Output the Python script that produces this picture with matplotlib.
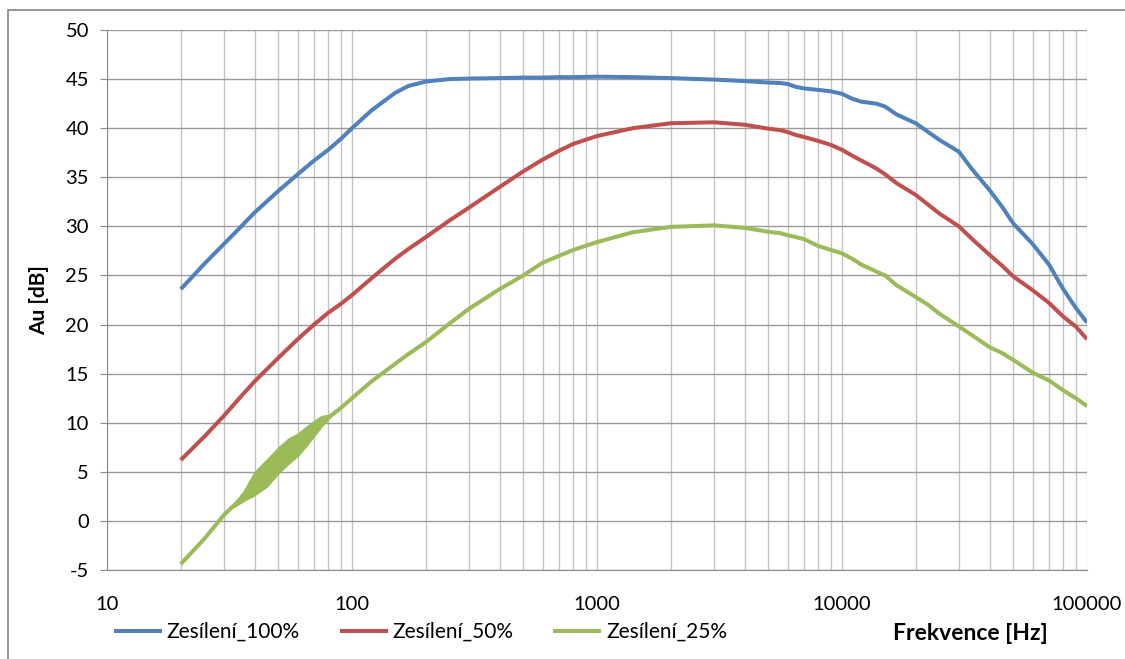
import matplotlib
matplotlib.use("Agg")
import matplotlib.pyplot as plt
from matplotlib.patches import Rectangle
from matplotlib.ticker import FixedLocator, FixedFormatter, LogLocator, NullFormatter

plt.rcParams['font.family'] = ['Lato', 'DejaVu Sans']
plt.rcParams['axes.unicode_minus'] = False

# frequency points (Hz)
freq = [20, 25, 30, 35, 40, 50, 60, 70, 80, 90, 100, 120, 150, 170, 200, 250,
        300, 400, 500, 600, 700, 800, 1000, 1400, 2000, 3000, 4000, 5000, 5600,
        6000, 6500, 7000, 8000, 9000, 10000, 11000, 12000, 13800, 15000, 16700,
        20000, 22500, 25000, 30000, 34000, 40000, 45000, 50000, 60000, 70000,
        80000, 90000, 100000]

gain_100 = [23.6, 26.2, 28.2, 29.9, 31.4, 33.6, 35.3, 36.7, 37.8, 38.9, 40.0,
            41.8, 43.6, 44.3, 44.75, 45.0, 45.05, 45.1, 45.15, 45.15, 45.2, 45.2,
            45.25, 45.2, 45.1, 44.95, 44.8, 44.65, 44.6, 44.5, 44.2, 44.05, 43.9,
            43.75, 43.5, 43.0, 42.7, 42.5, 42.2, 41.4, 40.5, 39.6, 38.8, 37.6,
            35.8, 33.7, 32.0, 30.3, 28.2, 26.1, 23.6, 21.7, 20.2]

gain_50 = [6.2, 8.6, 10.7, 12.6, 14.2, 16.6, 18.5, 20.0, 21.2, 22.1, 23.0,
           24.7, 26.7, 27.7, 28.9, 30.6, 31.9, 34.0, 35.6, 36.8, 37.7, 38.4,
           39.2, 40.0, 40.5, 40.6, 40.35, 39.95, 39.8, 39.6, 39.3, 39.1, 38.7,
           38.3, 37.8, 37.2, 36.7, 35.9, 35.3, 34.4, 33.2, 32.2, 31.3, 30.0,
           28.7, 27.1, 26.0, 24.9, 23.5, 22.2, 20.8, 19.8, 18.5]

gain_25 = [-4.4, -1.8, 0.6, 2.2, 3.8, 6.0, 7.6, 9.2, 10.5, 11.5, 12.5, 14.2,
           16.0, 17.0, 18.2, 20.1, 21.6, 23.6, 25.0, 26.3, 27.0, 27.6, 28.4,
           29.4, 29.95, 30.1, 29.85, 29.45, 29.3, 29.1, 28.9, 28.7, 28.0, 27.6,
           27.25, 26.7, 26.1, 25.4, 25.0, 24.0, 22.8, 22.0, 21.1, 19.8, 18.9,
           17.7, 17.1, 16.4, 15.1, 14.3, 13.3, 12.5, 11.7]

# noisy band of the 25 % curve at low frequencies
band_freq = [33, 36, 40, 45, 50, 55, 60, 65, 70, 75, 80]
band_lo = [1.4, 2.0, 2.6, 3.5, 4.8, 5.8, 6.6, 7.6, 8.6, 9.6, 10.3]
band_hi = [1.8, 3.0, 5.0, 6.3, 7.5, 8.4, 8.9, 9.6, 10.2, 10.7, 10.8]

labels = ["Zesílení_100%", "Zesílení_50%", "Zesílení_25%"]
colors = ["#4F81BD", "#C0504D", "#9BBB59"]

x_ticks = [10, 100, 1000, 10000, 100000]
y_ticks = list(range(-5, 51, 5))

fig = plt.figure(figsize=(11.25, 6.59), dpi=100)
ax = fig.add_axes([107 / 1125, 1 - 570 / 659, 980 / 1125, 540 / 659])

ax.set_xscale('log')
ax.set_xlim(10, 100000)
ax.set_ylim(-5, 50)

ax.xaxis.set_major_locator(FixedLocator(x_ticks))
ax.xaxis.set_major_formatter(FixedFormatter([str(t) for t in x_ticks]))
ax.xaxis.set_minor_locator(LogLocator(base=10, subs=range(2, 10)))
ax.xaxis.set_minor_formatter(NullFormatter())
ax.set_yticks(y_ticks)

ax.grid(True, which='major', axis='y', color='#9A9A9A', lw=1.0)
ax.grid(True, which='both', axis='x', color='#C4C4C4', lw=1.0)
ax.set_axisbelow(True)

for s in ['top', 'right']:
    ax.spines[s].set_visible(False)
ax.spines['left'].set_color('#8C8C8C')
ax.spines['bottom'].set_color('#8C8C8C')

ax.tick_params(axis='y', length=5, color='#8C8C8C', labelsize=14.5, pad=8)
ax.tick_params(axis='x', which='both', length=0, labelsize=14.5, pad=19)

series = [gain_100, gain_50, gain_25]
for vals, lab, c in zip(series, labels, colors):
    ax.plot(freq, vals, '-', color=c, lw=2.9, label=lab, solid_capstyle='butt')
ax.fill_between(band_freq, band_lo, band_hi, color=colors[2], lw=0.8,
                edgecolor=colors[2])

ax.set_ylabel("Au [dB]", fontsize=15, fontweight='bold', labelpad=12)
fig.text(970 / 1125, 1 - 633 / 659, "Frekvence [Hz]", fontsize=16.5,
         fontweight='bold', ha='center', va='center')

fig.legend(loc='center left', bbox_to_anchor=(95 / 1125, 1 - 632 / 659),
           ncol=3, frameon=False, fontsize=15, handlelength=2.3,
           columnspacing=1.9, handletextpad=0.25)

# outer chart frame
fig.patches.append(Rectangle((8 / 1125, -0.1), 1.2, 1 - 10 / 659 + 0.1,
                             transform=fig.transFigure, fill=False,
                             edgecolor='#8C8C8C', lw=1.3))

fig.savefig("out.png", dpi=100)
